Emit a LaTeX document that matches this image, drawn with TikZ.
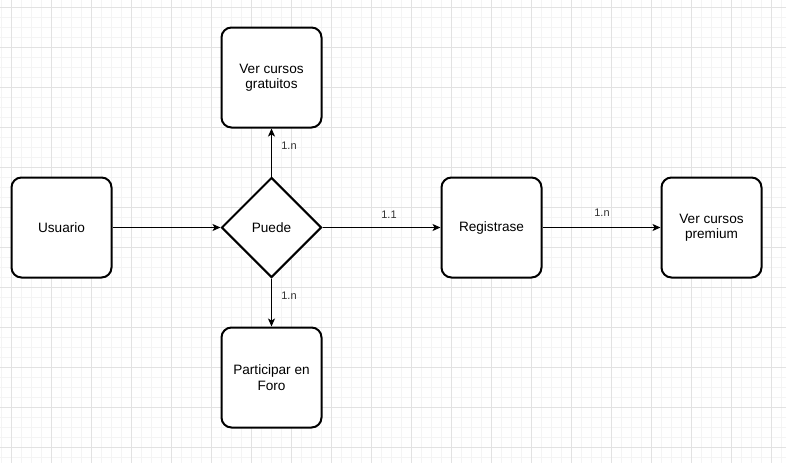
\documentclass[tikz,border=0pt]{standalone}
\usepackage{fontspec}
\setmainfont{Liberation Sans}
\usetikzlibrary{shapes.geometric,arrows.meta}
\definecolor{gridminor}{HTML}{F4F4F4}
\definecolor{gridmajor}{HTML}{E2E2E2}
\begin{document}
\begin{tikzpicture}[x=1pt,y=-1pt,
  box/.style={draw,line width=2pt,rounded corners=10pt,minimum width=100pt,minimum height=100pt,inner sep=0pt,align=center,fill=white,font=\fontsize{13.6}{15.5}\selectfont},
  rel/.style={draw,diamond,line width=2pt,minimum width=100pt,minimum height=100pt,inner sep=0pt,fill=white,font=\fontsize{13.6}{15.5}\selectfont},
  conn/.style={line width=1pt,-{Stealth[length=8pt,width=7pt,inset=2pt]}},
  card/.style={font=\fontsize{11}{13}\selectfont,text=black!80}]
\useasboundingbox (0,0) rectangle (786,463);
\fill[white] (0,0) rectangle (786,463);
\foreach \x in {1.5,11.5,...,781.5} \draw[gridminor,line width=1pt] (\x,0) -- (\x,463);
\foreach \y in {7.5,17.5,...,457.5} \draw[gridminor,line width=1pt] (0,\y) -- (786,\y);
\foreach \x in {11.5,51.5,...,771.5} \draw[gridmajor,line width=1pt] (\x,0) -- (\x,463);
\foreach \y in {7.5,47.5,...,447.5} \draw[gridmajor,line width=1pt] (0,\y) -- (786,\y);

\node[box] (usuario) at (61.5,227.5) {Usuario};
\node[rel] (puede) at (271.5,227.5) {Puede};
\node[box] (gratis) at (271.5,77.5) {Ver cursos\\gratuitos};
\node[box] (foro) at (271.5,377.5) {Participar en\\Foro};
\node[box] (reg) at (491.5,227.5) {Registrase};
\node[box] (prem) at (711.5,227.5) {Ver cursos\\premium};

\draw[conn] (usuario) -- (puede);
\draw[conn] (puede) -- (gratis);
\draw[conn] (puede) -- (foro);
\draw[conn] (puede) -- (reg);
\draw[conn] (reg) -- (prem);

\node[card] (c1) at (289,146) {1.n};
\node[card] (c2) at (289,296) {1.n};
\node[card] (c3) at (389,215) {1.1};
\node[card] (c4) at (602,213) {1.n};
\end{tikzpicture}
\end{document}
